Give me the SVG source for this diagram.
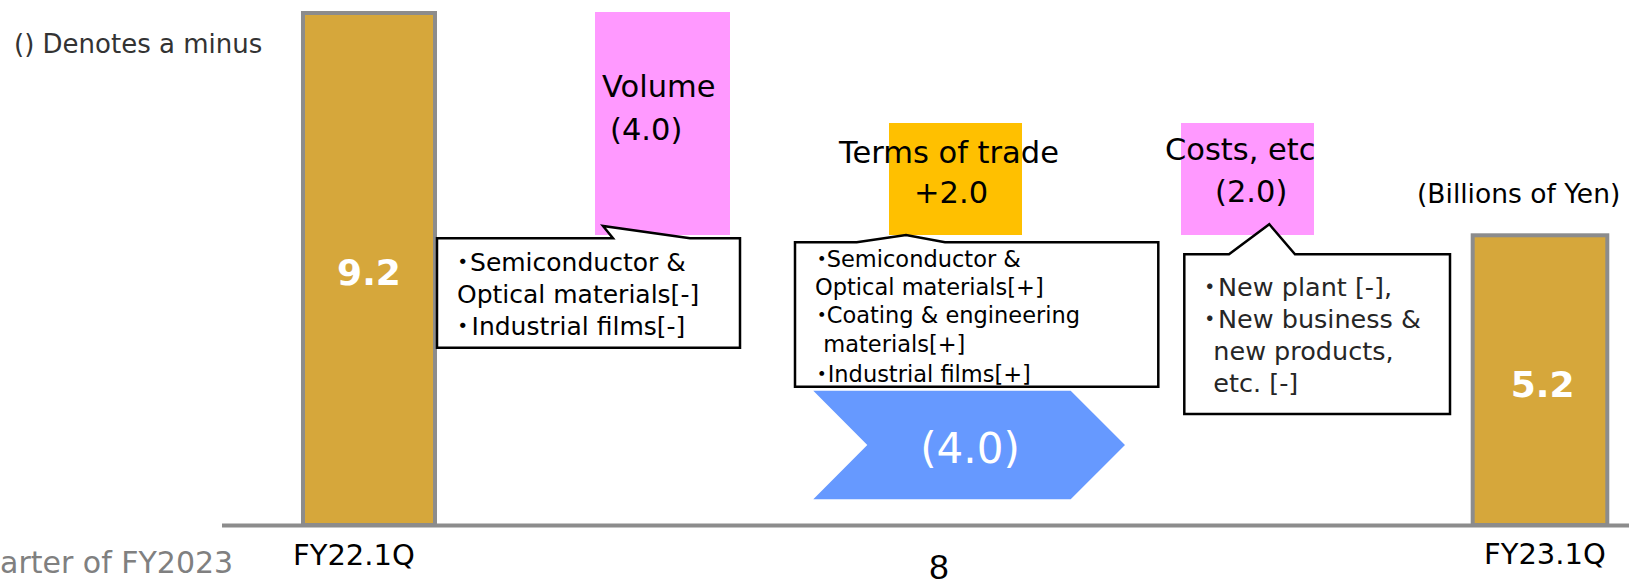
<svg xmlns="http://www.w3.org/2000/svg" width="1629" height="583" viewBox="0 0 1629 583">
<style>
.t{font-family:"DejaVu Sans","Noto Sans CJK JP",sans-serif;fill:#000}
.bar{fill:#d6a73b;stroke:#8c8c8c;stroke-width:4}
.val{font-family:"DejaVu Sans",sans-serif;font-weight:bold;fill:#fff;font-size:36px;text-anchor:middle}
.lbl{font-size:30.5px}
.call{fill:#fff;stroke:#000;stroke-width:2.5;stroke-linejoin:miter}
.c1{font-size:25px}
.c2{font-size:22.5px}
.c3{font-size:25.5px;fill:#262626}
.ax{font-size:29px}
</style>
<rect width="1629" height="583" fill="#fff"/>

<g id="note">
<text class="t" x="14" y="53" font-size="26" style="fill:#333">() Denotes a minus</text>
</g>

<g id="bar-fy22">
<rect class="bar" x="303" y="13" width="132" height="512"/>
<text class="val" x="369" y="285">9.2</text>
</g>

<g id="volume">
<rect x="595" y="12" width="135" height="223" fill="#ff99ff"/>
<text class="t lbl" x="602" y="97">Volume</text>
<text class="t lbl" x="610" y="140">(4.0)</text>
</g>

<g id="terms">
<rect x="889" y="123" width="133" height="112" fill="#ffc000"/>
<text class="t lbl" x="839" y="163">Terms of trade</text>
<text class="t lbl" x="914" y="203">+2.0</text>
</g>

<g id="costs">
<rect x="1181" y="123" width="133" height="112" fill="#ff99ff"/>
<text class="t lbl" x="1165" y="160">Costs, etc</text>
<text class="t lbl" x="1215" y="202">(2.0)</text>
</g>

<g id="unit">
<text class="t" x="1417" y="203" font-size="26.5">(Billions of Yen)</text>
</g>

<g id="callout-volume">
<path class="call" d="M437,238.3 H613 L603,226 L690,238.3 H740 V347.7 H437 Z"/>
<text class="t c1" x="450.2" y="271">・<tspan dx="-5.2">Semiconductor &amp;</tspan></text>
<text class="t c1" x="457" y="303">Optical materials[-]</text>
<text class="t c1" x="450.2" y="335">・<tspan dx="-3.7">Industrial films[-]</tspan></text>
</g>

<g id="callout-terms">
<path class="call" d="M795,242.3 H856.7 L906,235 L945,242.3 H1158.3 V386.7 H795 Z"/>
<text class="t c2" x="810.5" y="267">・<tspan dx="-6.3">Semiconductor &amp;</tspan></text>
<text class="t c2" x="815" y="295">Optical materials[+]</text>
<text class="t c2" x="810.5" y="323">・<tspan dx="-6.3">Coating &amp; engineering</tspan></text>
<text class="t c2" x="823.3" y="352">materials[+]</text>
<text class="t c2" x="810.5" y="382">・<tspan dx="-5.3">Industrial films[+]</tspan></text>
</g>

<g id="callout-costs">
<path class="call" d="M1184.3,254.3 H1229 L1269.3,224.3 L1295,254.3 H1450 V414 H1184.3 Z"/>
<text class="t c3" x="1197" y="296">・<tspan dx="-4.5">New plant [-],</tspan></text>
<text class="t c3" x="1197" y="328">・<tspan dx="-4.5">New business &amp;</tspan></text>
<text class="t c3" x="1213.3" y="360">new products,</text>
<text class="t c3" x="1213.3" y="392">etc. [-]</text>
</g>

<g id="total-change">
<path d="M813.3,390.7 H1070.7 L1125,445 L1070.7,499.3 H813.3 L867.3,445 Z" fill="#6699ff"/>
<text class="t" x="970" y="463" font-size="42" text-anchor="middle" style="fill:#fff">(4.0)</text>
</g>

<g id="bar-fy23">
<rect class="bar" x="1472.7" y="235.3" width="134.6" height="289.7"/>
<text class="val" x="1542.7" y="397">5.2</text>
</g>

<g id="axis">
<line x1="222" y1="525.5" x2="1629" y2="525.5" stroke="#8c8c8c" stroke-width="4"/>
<text class="t ax" x="293" y="565">FY22.1Q</text>
<text class="t ax" x="1484" y="563.5">FY23.1Q</text>
</g>

<g id="footer">
<text class="t" x="0" y="573" font-size="30" style="fill:#808080">arter of FY2023</text>
<text x="939" y="579" font-family="Liberation Sans, sans-serif" font-size="35" text-anchor="middle" fill="#000">8</text>
</g>

<g id="connectors"></g>
</svg>
